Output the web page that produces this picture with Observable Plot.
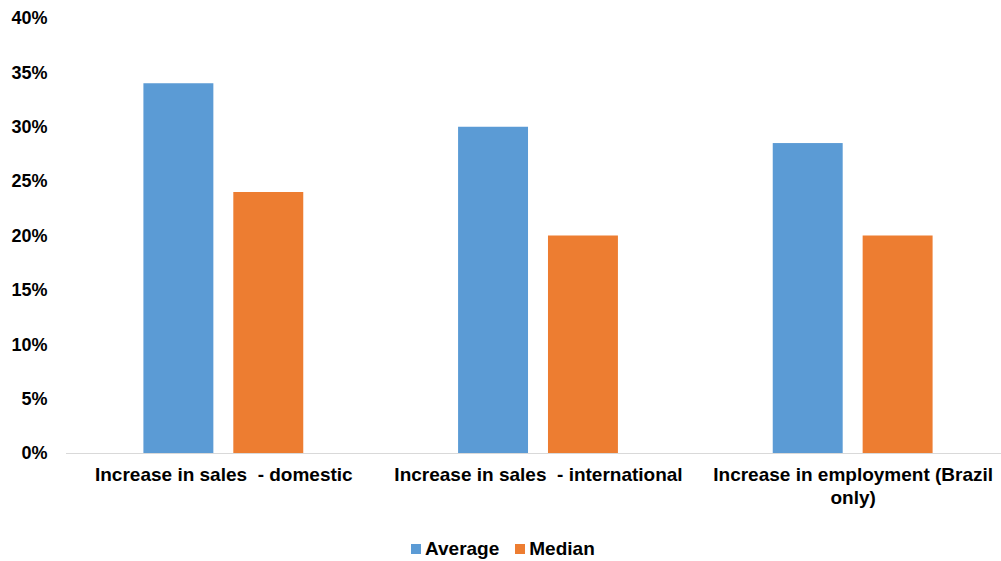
<!DOCTYPE html>
<html>
<head>
<meta charset="utf-8">
<script src="https://cdn.jsdelivr.net/npm/d3@7"></script>
<script src="https://cdn.jsdelivr.net/npm/@observablehq/plot@0.6"></script>
<style>
  html, body { margin: 0; padding: 0; background: #fff; }
  #wrap { position: relative; width: 1001px; height: 561px; overflow: hidden; }
  #chart svg { max-width: none !important; }
  #legend {
    position: absolute; left: 411px; top: 538px;
    display: flex; align-items: center;
    font-family: "Liberation Sans", Arial, sans-serif; font-weight: bold; font-size: 19px; color: #000;
  }
  #legend .item { display: flex; align-items: center; margin-right: 16px; }
  #legend .sw { width: 10px; height: 10px; margin-right: 4px; }
</style>
</head>
<body>
<div id="wrap">
  <div id="chart"></div>
  <div id="legend"></div>
</div>
<script>
// Growth indicators: average and median increase, in percent
const categories = [
  "Increase in sales  - domestic",
  "Increase in sales  - international",
  "Increase in employment (Brazil only)"
];
const categoryLabels = [
  "Increase in sales  - domestic",
  "Increase in sales  - international",
  "Increase in employment (Brazil\nonly)"
];
const seriesNames = ["Average", "Median"];
const seriesColors = ["#5B9BD5", "#ED7D31"];
const averageValues = [34, 30, 28.5];
const medianValues = [24, 20, 20];
const yTicks = [0, 5, 10, 15, 20, 25, 30, 35, 40];

const rows = categories.flatMap((c, i) => [
  {category: c, series: seriesNames[0], value: averageValues[i]},
  {category: c, series: seriesNames[1], value: medianValues[i]}
]);
const labelOf = new Map(categories.map((c, i) => [c, categoryLabels[i]]));

const font = '"Liberation Sans", Arial, sans-serif';

// Each category fills one full facet; the two bars sit in its middle
const plot = Plot.plot({
  width: 1010,
  height: 520,
  marginTop: 18,
  marginBottom: 67,
  marginLeft: 66,
  marginRight: 0,
  style: {fontFamily: font, fontWeight: "bold", color: "#000", background: "#fff"},
  fx: {domain: categories, padding: 0, round: false, axis: null},
  x: {domain: seriesNames, paddingInner: 0.222, paddingOuter: 0.861, round: false, axis: null},
  y: {domain: [0, 40], axis: null},
  color: {domain: seriesNames, range: seriesColors},
  marks: [
    Plot.barY(rows, {fx: "category", x: "series", y: "value", fill: "series", inset: 0}),
    // baseline across the whole plotting area
    Plot.frame({anchor: "bottom", facet: "super", stroke: "#d9d9d9", strokeWidth: 1}),
    Plot.axisY({
      ticks: yTicks, tickFormat: d => d + "%", tickSize: 0, tickPadding: 19,
      fontSize: 18, label: null
    }),
    Plot.axisFx({
      anchor: "bottom", tickSize: 0, tickPadding: 12, label: null,
      tickFormat: d => labelOf.get(d), fontSize: 19, lineHeight: 1.17
    })
  ]
});
document.getElementById("chart").appendChild(plot);

// Legend below the chart
const legend = d3.select("#legend");
seriesNames.forEach((name, i) => {
  const item = legend.append("div").attr("class", "item");
  item.append("div").attr("class", "sw").style("background", seriesColors[i]);
  item.append("span").text(name);
});
</script>
</body>
</html>
